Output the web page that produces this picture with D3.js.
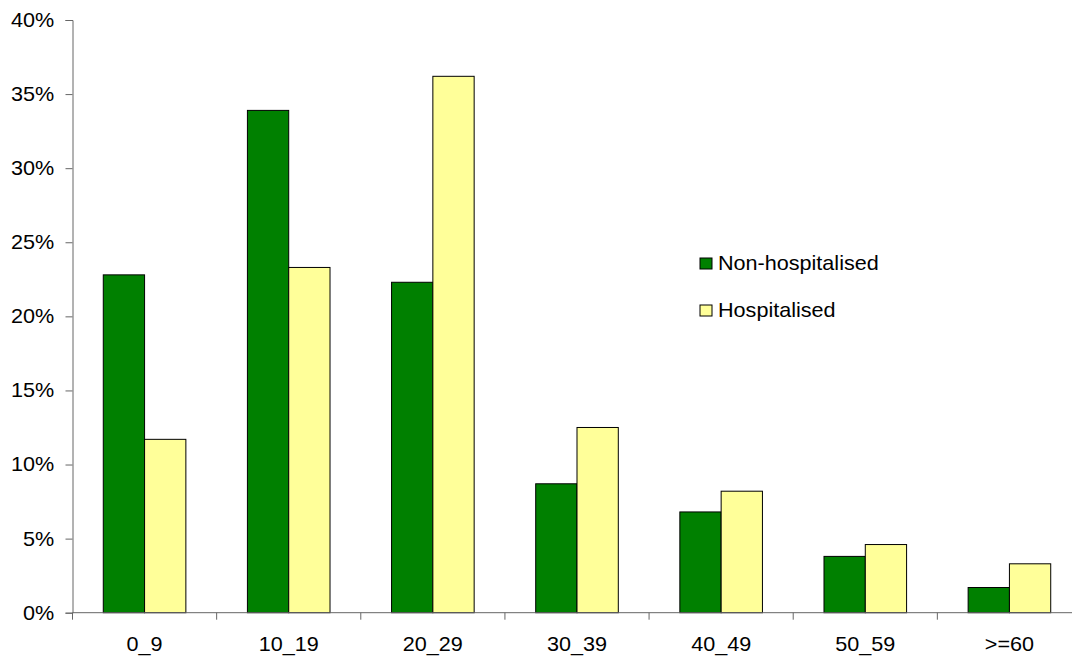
<!DOCTYPE html>
<html>
<head>
<meta charset="utf-8">
<script src="https://cdn.jsdelivr.net/npm/d3@7"></script>
<style>
  html, body { margin: 0; padding: 0; background: #fff; }
  svg { display: block; font-family: "Liberation Sans", Arial, sans-serif; }
</style>
</head>
<body>
<svg id="chart" width="1072" height="657"></svg>
<script>
// Age-group distribution (percent) by hospitalisation status
const ageGroups = ["0_9", "10_19", "20_29", "30_39", "40_49", "50_59", ">=60"];
const seriesNames = ["Non-hospitalised", "Hospitalised"];
const nonHospitalised = [22.8, 33.9, 22.3, 8.7, 6.8, 3.8, 1.7];
const hospitalised = [11.7, 23.3, 36.2, 12.5, 8.2, 4.6, 3.3];
const yTicks = [0, 5, 10, 15, 20, 25, 30, 35, 40];
const seriesColors = ["#008000", "#FFFF99"];

const fontSize = 20;
const stretch = "scale(1.08,1)"; // slightly wide lettering

const svg = d3.select("#chart");
const plotLeft = 72.5, plotRight = 1081.5, plotTop = 20, plotBottom = 612.7;

const x = d3.scaleBand().domain(ageGroups).range([plotLeft, plotRight])
  .paddingInner(0.427).paddingOuter(0.2135);
const xs = d3.scaleBand().domain(seriesNames).range([0, x.bandwidth()]);
const y = d3.scaleLinear().domain([0, 40]).range([plotBottom, plotTop]);

const rows = ageGroups.map((g, i) => ({ group: g, values: [nonHospitalised[i], hospitalised[i]] }));

// Bars
const groups = svg.append("g").selectAll("g").data(rows).join("g")
  .attr("transform", d => `translate(${x(d.group)},0)`);
groups.selectAll("rect")
  .data(d => d.values.map((v, j) => ({ name: seriesNames[j], value: v, color: seriesColors[j] })))
  .join("rect")
  .attr("x", d => xs(d.name))
  .attr("y", d => y(d.value))
  .attr("width", xs.bandwidth())
  .attr("height", d => y(0) - y(d.value))
  .attr("fill", d => d.color)
  .attr("stroke", "#000")
  .attr("stroke-width", 1);

// Y axis
const yAxis = svg.append("g").attr("transform", `translate(${plotLeft},0)`)
  .call(d3.axisLeft(y).tickValues(yTicks).tickFormat(d => d + "%").tickSize(7).tickPadding(10));
yAxis.select(".domain").attr("stroke", "#666");
yAxis.selectAll(".tick line").attr("stroke", "#666");
yAxis.selectAll(".tick text").attr("font-size", fontSize).attr("fill", "#000")
  .attr("font-family", "'Liberation Sans', Arial, sans-serif")
  .attr("transform", stretch);

// X axis with ticks between categories
const xAxisG = svg.append("g").attr("transform", `translate(0,${plotBottom})`);
xAxisG.append("line").attr("x1", plotLeft).attr("x2", 1072).attr("stroke", "#666");
const step = x.step();
const boundaries = d3.range(ageGroups.length + 1).map(i => plotLeft + i * step);
xAxisG.selectAll("line.tk").data(boundaries).join("line").attr("class", "tk")
  .attr("x1", d => d).attr("x2", d => d).attr("y1", 0).attr("y2", 7).attr("stroke", "#666");
xAxisG.selectAll("text").data(ageGroups).join("text")
  .attr("transform", d => `translate(${x(d) + x.bandwidth() / 2},38) ${stretch}`)
  .attr("text-anchor", "middle")
  .attr("font-size", fontSize)
  .text(d => d);

// Legend
const legend = svg.append("g").attr("transform", "translate(700,258)");
const items = legend.selectAll("g").data(seriesNames).join("g")
  .attr("transform", (d, i) => `translate(0,${i * 47})`);
items.append("rect").attr("width", 12).attr("height", 11)
  .attr("fill", (d, i) => seriesColors[i]).attr("stroke", "#000");
items.append("text").attr("transform", `translate(18,12) ${stretch}`)
  .attr("font-size", fontSize).text(d => d);
</script>
</body>
</html>
